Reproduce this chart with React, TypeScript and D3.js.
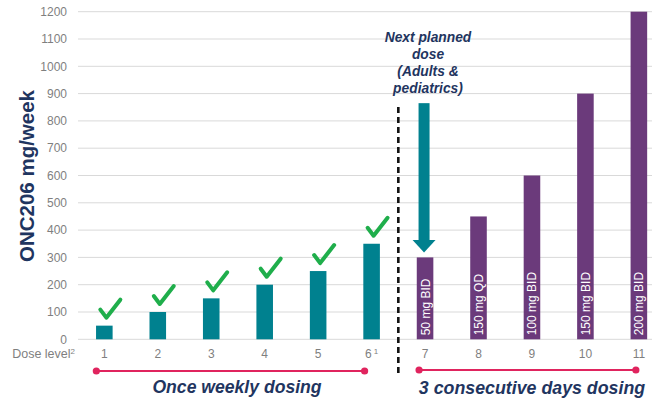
import React from "react";
import * as d3 from "d3";

const doseLevels = ["1", "2", "3", "4", "5", "6", "7", "8", "9", "10", "11"];
const weeklyDose = [50, 100, 150, 200, 250, 350, 300, 450, 600, 900, 1200];
const regimen = ["once", "once", "once", "once", "once", "once", "cons", "cons", "cons", "cons", "cons"];
const barLabels = ["", "", "", "", "", "", "50 mg BID", "150 mg QD", "100 mg BID", "150 mg BID", "200 mg BID"];
const checked = [true, true, true, true, true, true, false, false, false, false, false];
const yTicks = [0, 100, 200, 300, 400, 500, 600, 700, 800, 900, 1000, 1100, 1200];
const annotationLines = ["Next planned", "dose", "(Adults &", "pediatrics)"];

const W = 659;
const H = 403;
const TEAL = "#00818f";
const PURPLE = "#6b3a7b";
const NAVY = "#1f3560";
const GRAY = "#7f7f7f";
const RED = "#e0245e";
const GREEN = "#1fae4b";
const FONT = "'Liberation Sans', Arial, sans-serif";

export default function App() {
  const y = d3.scaleLinear().domain([0, 1200]).range([339.3, 11.7]);
  const x = d3.scaleBand().domain(doseLevels).range([77.6, 665.6]).paddingInner(0.69).paddingOuter(0.345);
  const bw = x.bandwidth();
  const cx = (d: string) => (x(d) as number) + bw / 2;
  const gridL = 78;
  const gridR = 652;

  const onceIdx = regimen.map((r, i) => (r === "once" ? i : -1)).filter((i) => i >= 0);
  const consIdx = regimen.map((r, i) => (r === "cons" ? i : -1)).filter((i) => i >= 0);
  const divider = (cx(doseLevels[onceIdx[onceIdx.length - 1]]) + cx(doseLevels[consIdx[0]])) / 2;

  const arrowIdx = consIdx[0];
  const ax = cx(doseLevels[arrowIdx]) - 1;
  const arrowTop = y(865);
  const arrowTip = y(weeklyDose[arrowIdx]) - 5;

  return (
    <svg width={W} height={H} style={{ position: "absolute", left: 0, top: 0 }} fontFamily={FONT}>
      <rect width={W} height={H} fill="#fff" />
      {yTicks.map((t) => (
        <g key={t}>
          <line x1={gridL} x2={gridR} y1={y(t)} y2={y(t)} stroke="#d9d9d9" strokeWidth={1} />
          <text x={67} y={y(t)} dy="0.35em" textAnchor="end" fontSize={12} fill={GRAY}>
            {t}
          </text>
        </g>
      ))}
      <text
        transform={`translate(34,176) rotate(-90)`}
        textAnchor="middle"
        fontSize={20.5}
        fontWeight="bold"
        fill={NAVY}
      >
        ONC206 mg/week
      </text>

      {doseLevels.map((d, i) => (
        <g key={d}>
          <rect
            x={x(d)}
            y={y(weeklyDose[i])}
            width={bw}
            height={y(0) - y(weeklyDose[i])}
            fill={regimen[i] === "once" ? TEAL : PURPLE}
          />
          {barLabels[i] && (
            <text
              transform={`translate(${cx(d) + 4.5},${y(0) - 4}) rotate(-90)`}
              fontSize={12}
              fill="#fff"
            >
              {barLabels[i]}
            </text>
          )}
          {checked[i] && (
            <path
              d={`M${cx(d) - 4},${y(weeklyDose[i]) - 16} L${cx(d) + 2},${y(weeklyDose[i]) - 8} L${cx(d) + 16},${y(weeklyDose[i]) - 26}`}
              fill="none"
              stroke={GREEN}
              strokeWidth={4}
              strokeLinecap="round"
              strokeLinejoin="round"
            />
          )}
          <text x={cx(d)} y={358} textAnchor="middle" fontSize={12} fill={GRAY}>
            {d}
            {d === "6" && (
              <tspan fontSize={8} dy={-4} dx={2}>
                1
              </tspan>
            )}
          </text>
        </g>
      ))}

      <text x={75} y={358} textAnchor="end" fontSize={12.5} fill={GRAY}>
        Dose level
        <tspan fontSize={8} dy={-4}>
          2
        </tspan>
      </text>

      <line
        x1={divider}
        x2={divider}
        y1={107}
        y2={376}
        stroke="#111"
        strokeWidth={2.6}
        strokeDasharray="6 4"
      />

      <rect x={ax - 5.5} y={arrowTop} width={11} height={arrowTip - 12 - arrowTop} fill={TEAL} />
      <path
        d={`M${ax - 11.5},${arrowTip - 12.5} L${ax + 11.5},${arrowTip - 12.5} L${ax},${arrowTip} Z`}
        fill={TEAL}
      />
      {annotationLines.map((l, i) => (
        <text
          key={l}
          x={428}
          y={42 + i * 17}
          textAnchor="middle"
          fontSize={13.8}
          fontWeight="bold"
          fontStyle="italic"
          fill={NAVY}
        >
          {l}
        </text>
      ))}

      {[onceIdx, consIdx].map((idx, k) => {
        const x1 = cx(doseLevels[idx[0]]) - (k === 0 ? 8 : 6);
        const x2 = cx(doseLevels[idx[idx.length - 1]]) - (k === 0 ? 7 : 3);
        const ly = k === 0 ? 371 : 370;
        return (
          <g key={k}>
            <line x1={x1} x2={x2} y1={ly} y2={ly} stroke={RED} strokeWidth={2.2} />
            <circle cx={x1} cy={ly} r={3.6} fill={RED} />
            <circle cx={x2} cy={ly} r={3.6} fill={RED} />
          </g>
        );
      })}
      <text x={237} y={393} textAnchor="middle" fontSize={17.6} fontWeight="bold" fontStyle="italic" fill={NAVY}>
        Once weekly dosing
      </text>
      <text x={532} y={394} textAnchor="middle" fontSize={17.8} fontWeight="bold" fontStyle="italic" fill={NAVY}>
        3 consecutive days dosing
      </text>
    </svg>
  );
}
